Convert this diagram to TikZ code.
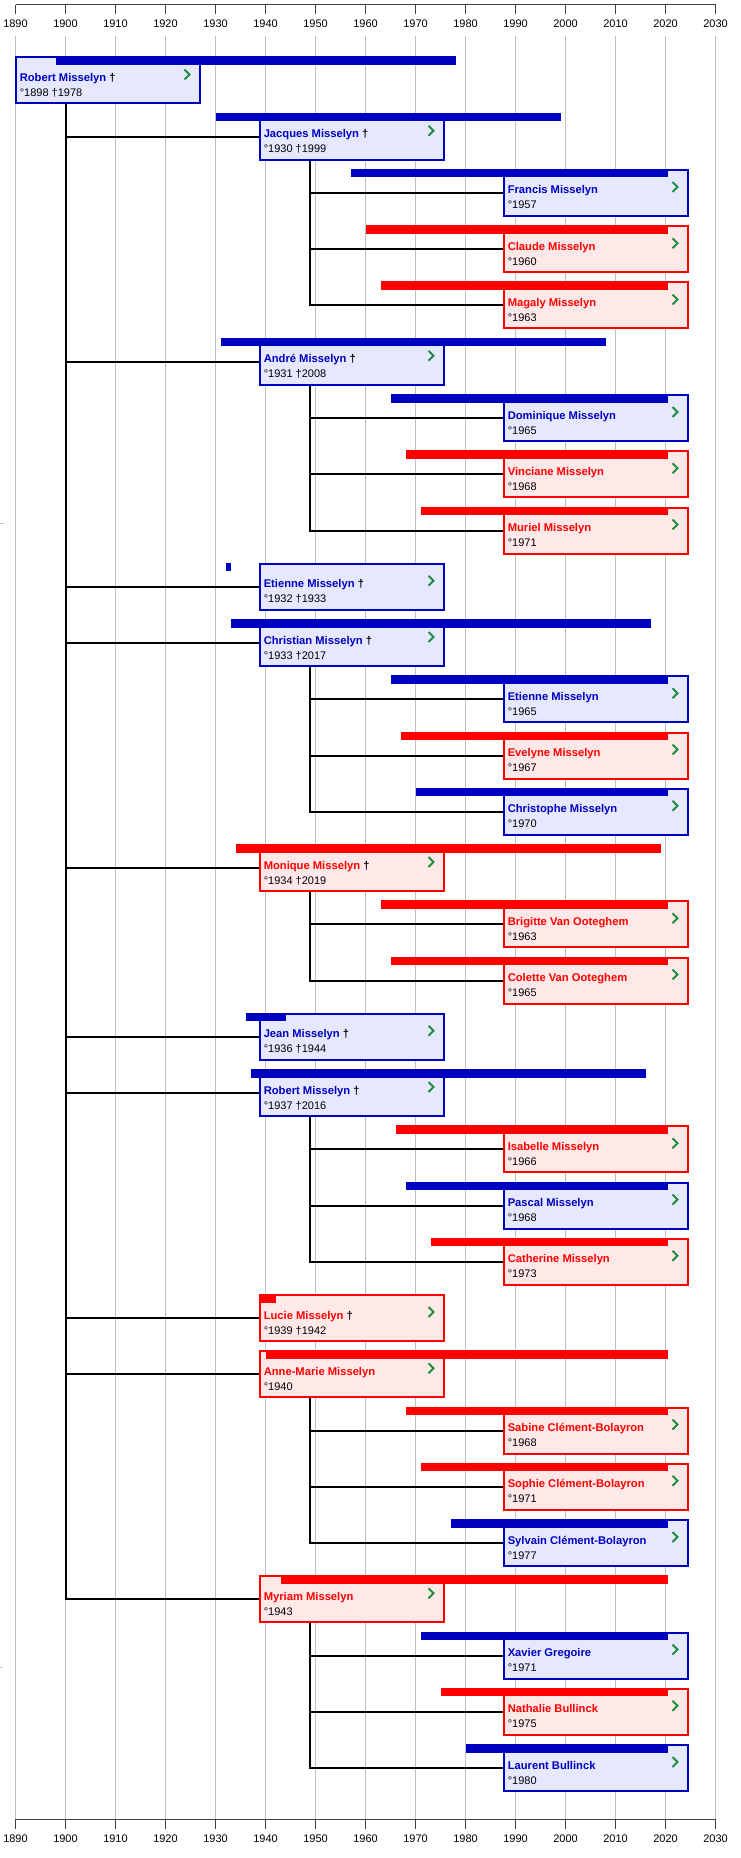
\documentclass[tikz,border=0pt]{standalone}
\usepackage{fontspec}
\setmainfont{Liberation Sans}
\usetikzlibrary{calc,backgrounds}

\definecolor{hecol}{RGB}{0,0,192}
\definecolor{hefill}{RGB}{230,232,255}
\definecolor{shecol}{RGB}{255,0,0}
\definecolor{shefill}{RGB}{255,232,232}
\definecolor{golink}{RGB}{30,140,60}

\tikzset{
  gridline/.style={draw=black!25, line width=0.75pt},
  axisline/.style={draw=black!75, line width=0.75pt},
  yearlabel/.style={font=\fontsize{8.25}{10}\selectfont, inner sep=0pt},
  link/.style={draw=black, line width=1.5pt},
  hebox/.style={draw=hecol, fill=hefill, line width=1.5pt, minimum width=138pt, minimum height=34.5pt, inner sep=0pt, outer sep=0pt, anchor=north west},
  shebox/.style={hebox, draw=shecol, fill=shefill},
  who/.style={font=\fontsize{8.4}{10}\selectfont\bfseries, anchor=base west, inner sep=0pt},
  when/.style={font=\fontsize{8.25}{10}\selectfont, anchor=base west, inner sep=0pt},
  chev/.style={draw=golink, line width=1.5pt},
}

\newcommand\deceased{\textcolor{black}{†}}
% one person: name, left edge, row, born, end of bar, he/she, name text, dates
\newcommand\person[8]{%
  \pgfmathsetmacro\rowtop{57.5+56.25*#3}%
  \node[#6box] (#1) at (#2,\rowtop) {};
  \fill[#6col] ({15.5+5*(#4-1890)},{\rowtop-1}) rectangle ({15.5+5*(#5-1890)},{\rowtop+7.5});
  \node[who, text=#6col] (#1-name) at ($(#1.north west)+(4,24)$) {#7};
  \node[when] (#1-dates) at ($(#1.north west)+(4,39)$) {#8};
  \draw[chev] ($(#1.north east)+(-15,12)$) -- ++(5,5) -- ++(-5,5);
}

\begin{document}
\begin{tikzpicture}[x=0.75pt, y=-0.75pt]
	\useasboundingbox (0,0) rectangle (741,1858);
	\begin{scope}[on background layer]
		\fill[white] (0,0) rectangle (741,1858);
		\foreach \yr in {1890,1900,...,2030} {
			\draw[gridline] ({15.5+5*(\yr-1890)},36) -- ({15.5+5*(\yr-1890)},1819.3);
			\draw[axisline] ({15.5+5*(\yr-1890)},4.7) -- ++(0,9.3);
			\draw[axisline] ({15.5+5*(\yr-1890)},1819.3) -- ++(0,10);
			\node[yearlabel] (top\yr) at ({15.5+5*(\yr-1890)},23.3) {\yr};
			\node[yearlabel] (bot\yr) at ({15.5+5*(\yr-1890)},1838.3) {\yr};
		}
		\draw[axisline] (15.5,4.7) -- (715.5,4.7);
		\draw[axisline] (15.5,1819.3) -- (715.5,1819.3);
		\draw[gridline] (0,523.3) -- (4,523.3);
		\draw[gridline] (0,1667.7) -- (1.5,1667.7);
	\end{scope}

	\person{robertA}{15.5}{0}{1898}{1978}{he}{Robert Misselyn \deceased}{°1898 †1978}
	\person{jacques}{259.5}{1}{1930}{1999}{he}{Jacques Misselyn \deceased}{°1930 †1999}
	\person{francis}{503.5}{2}{1957}{2020.5}{he}{Francis Misselyn}{°1957}
	\person{claude}{503.5}{3}{1960}{2020.5}{she}{Claude Misselyn}{°1960}
	\person{magaly}{503.5}{4}{1963}{2020.5}{she}{Magaly Misselyn}{°1963}
	\person{andre}{259.5}{5}{1931}{2008}{he}{André Misselyn \deceased}{°1931 †2008}
	\person{dominique}{503.5}{6}{1965}{2020.5}{he}{Dominique Misselyn}{°1965}
	\person{vinciane}{503.5}{7}{1968}{2020.5}{she}{Vinciane Misselyn}{°1968}
	\person{muriel}{503.5}{8}{1971}{2020.5}{she}{Muriel Misselyn}{°1971}
	\person{etienneA}{259.5}{9}{1932}{1933}{he}{Etienne Misselyn \deceased}{°1932 †1933}
	\person{christian}{259.5}{10}{1933}{2017}{he}{Christian Misselyn \deceased}{°1933 †2017}
	\person{etienneB}{503.5}{11}{1965}{2020.5}{he}{Etienne Misselyn}{°1965}
	\person{evelyne}{503.5}{12}{1967}{2020.5}{she}{Evelyne Misselyn}{°1967}
	\person{christophe}{503.5}{13}{1970}{2020.5}{he}{Christophe Misselyn}{°1970}
	\person{monique}{259.5}{14}{1934}{2019}{she}{Monique Misselyn \deceased}{°1934 †2019}
	\person{brigitte}{503.5}{15}{1963}{2020.5}{she}{Brigitte Van Ooteghem}{°1963}
	\person{colette}{503.5}{16}{1965}{2020.5}{she}{Colette Van Ooteghem}{°1965}
	\person{jean}{259.5}{17}{1936}{1944}{he}{Jean Misselyn \deceased}{°1936 †1944}
	\person{robertB}{259.5}{18}{1937}{2016}{he}{Robert Misselyn \deceased}{°1937 †2016}
	\person{isabelle}{503.5}{19}{1966}{2020.5}{she}{Isabelle Misselyn}{°1966}
	\person{pascal}{503.5}{20}{1968}{2020.5}{he}{Pascal Misselyn}{°1968}
	\person{catherine}{503.5}{21}{1973}{2020.5}{she}{Catherine Misselyn}{°1973}
	\person{lucie}{259.5}{22}{1939}{1942}{she}{Lucie Misselyn \deceased}{°1939 †1942}
	\person{annemarie}{259.5}{23}{1940}{2020.5}{she}{Anne-Marie Misselyn}{°1940}
	\person{sabine}{503.5}{24}{1968}{2020.5}{she}{Sabine Clément-Bolayron}{°1968}
	\person{sophie}{503.5}{25}{1971}{2020.5}{she}{Sophie Clément-Bolayron}{°1971}
	\person{sylvain}{503.5}{26}{1977}{2020.5}{he}{Sylvain Clément-Bolayron}{°1977}
	\person{myriam}{259.5}{27}{1943}{2020.5}{she}{Myriam Misselyn}{°1943}
	\person{xavier}{503.5}{28}{1971}{2020.5}{he}{Xavier Gregoire}{°1971}
	\person{nathalie}{503.5}{29}{1975}{2020.5}{she}{Nathalie Bullinck}{°1975}
	\person{laurent}{503.5}{30}{1980}{2020.5}{he}{Laurent Bullinck}{°1980}

	% parent to children
	\begin{scope}[on background layer]
		\foreach \kid in {jacques,andre,etienneA,christian,monique,jean,robertB,lucie,annemarie,myriam}
			\draw[link] ($(robertA.south west)+(50,0)$) |- (\kid.west);
		\foreach \kid in {francis,claude,magaly}
			\draw[link] ($(jacques.south west)+(50,0)$) |- (\kid.west);
		\foreach \kid in {dominique,vinciane,muriel}
			\draw[link] ($(andre.south west)+(50,0)$) |- (\kid.west);
		\foreach \kid in {etienneB,evelyne,christophe}
			\draw[link] ($(christian.south west)+(50,0)$) |- (\kid.west);
		\foreach \kid in {brigitte,colette}
			\draw[link] ($(monique.south west)+(50,0)$) |- (\kid.west);
		\foreach \kid in {isabelle,pascal,catherine}
			\draw[link] ($(robertB.south west)+(50,0)$) |- (\kid.west);
		\foreach \kid in {sabine,sophie,sylvain}
			\draw[link] ($(annemarie.south west)+(50,0)$) |- (\kid.west);
		\foreach \kid in {xavier,nathalie,laurent}
			\draw[link] ($(myriam.south west)+(50,0)$) |- (\kid.west);
	\end{scope}
\end{tikzpicture}
\end{document}
